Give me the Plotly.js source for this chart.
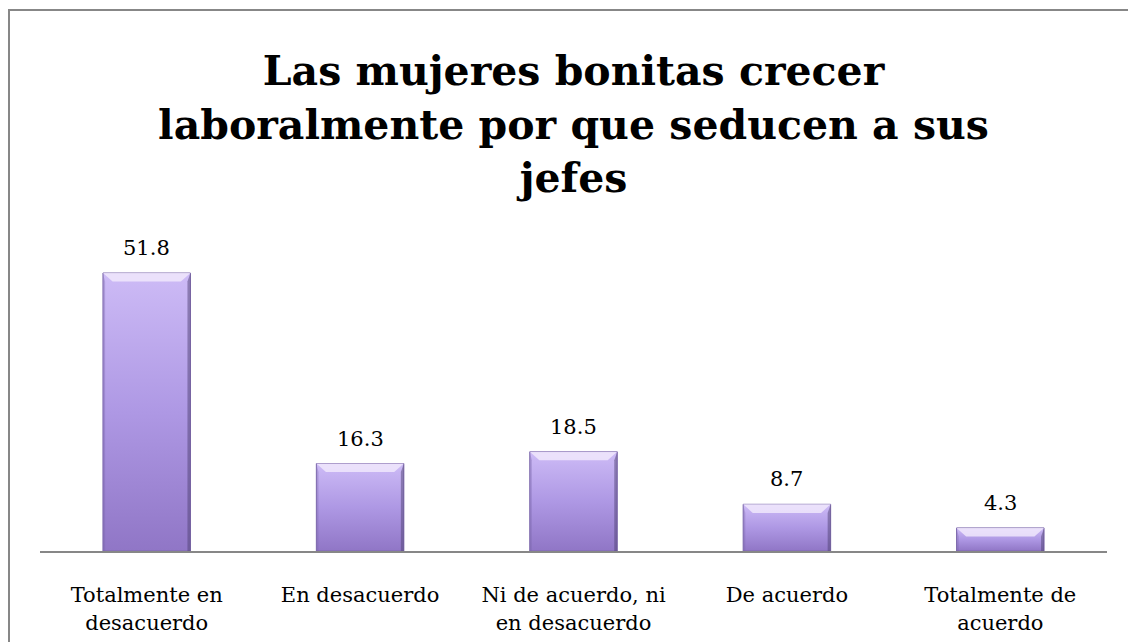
<!DOCTYPE html>
<html>
<head>
<meta charset="utf-8">
<script src="https://cdn.plot.ly/plotly-3.0.1.min.js"></script>
<style>
  html, body { margin:0; padding:0; background:#fff; overflow:hidden; }
  #wrap { position:relative; width:1128px; height:642px; }
  #chart { position:absolute; left:0; top:0; width:1128px; height:642px; }
  #frame { position:absolute; left:8px; top:9px; width:1300px; height:800px;
           border-left:2px solid #878787; border-top:2px solid #878787; pointer-events:none; }
</style>
</head>
<body>
<div id="wrap">
  <div id="chart"></div>
  <div id="frame"></div>
</div>
<script>
const categories = ["Totalmente en<br>desacuerdo", "En desacuerdo", "Ni de acuerdo, ni<br>en desacuerdo", "De acuerdo", "Totalmente de<br>acuerdo"];
const values = [51.8, 16.3, 18.5, 8.7, 4.3];
const titleText = "Las mujeres bonitas crecer<br>laboralmente por que seducen a sus<br>jefes";

const halfW = 0.205;
const serif = "'DejaVu Serif', serif";
const traces = [];

values.forEach((v, i) => {
  traces.push({
    type: 'scatter', mode: 'lines', hoverinfo: 'skip', showlegend: false,
    x: [i - halfW, i - halfW, i + halfW, i + halfW, i - halfW],
    y: [0, v, v, 0, 0],
    fill: 'toself',
    fillgradient: { type: 'vertical', colorscale: [[0, '#9076c6'], [0.5, '#ae98e4'], [1, '#cdbbf6']] },
    line: { color: '#7e6aad', width: 1 }
  });
  const bx = 0.045, by = 1.6;
  traces.push({
    type: 'scatter', mode: 'lines', hoverinfo: 'skip', showlegend: false,
    x: [i - halfW, i + halfW, i + halfW - bx, i - halfW + bx, i - halfW],
    y: [v, v, v - by, v - by, v],
    fill: 'toself', fillcolor: 'rgba(242,235,253,0.8)', line: { width: 0 }
  });
  traces.push({
    type: 'scatter', mode: 'lines', hoverinfo: 'skip', showlegend: false,
    x: [i + halfW, i + halfW, i + halfW - 0.014, i + halfW - 0.014, i + halfW],
    y: [0, v, v - by, 0, 0],
    fill: 'toself', fillcolor: 'rgba(80,65,115,0.5)', line: { width: 0 }
  });
  traces.push({
    type: 'scatter', mode: 'lines', hoverinfo: 'skip', showlegend: false,
    x: [i - halfW, i - halfW, i - halfW + 0.01, i - halfW + 0.01, i - halfW],
    y: [0, v, v - by, 0, 0],
    fill: 'toself', fillcolor: 'rgba(120,100,170,0.35)', line: { width: 0 }
  });
});

const annotations = values.map((v, i) => ({
  x: i, y: v, xref: 'x', yref: 'y', text: v.toFixed(1), showarrow: false,
  yanchor: 'middle', yshift: 25, font: { family: serif, size: 21, color: '#000' }
}));

const layout = {
  width: 1128, height: 642,
  margin: { l: 40, r: 21, t: 229, b: 91 },
  paper_bgcolor: '#fff', plot_bgcolor: '#fff',
  title: {
    text: titleText, x: 0.5, xref: 'paper', y: 0.867, yref: 'container', yanchor: 'middle',
    font: { family: serif, size: 41, color: '#000', weight: 'bold' }
  },
  xaxis: {
    range: [-0.5, 4.5], tickvals: [0, 1, 2, 3, 4], ticktext: categories,
    showline: true, linecolor: '#878787', linewidth: 2, showgrid: false, zeroline: false,
    ticks: '', ticklabelstandoff: 24, fixedrange: true,
    tickfont: { family: serif, size: 21, color: '#000' }
  },
  yaxis: { range: [0, 60], visible: false, showgrid: false, zeroline: false, fixedrange: true },
  annotations: annotations,
  showlegend: false
};

Plotly.newPlot('chart', traces, layout, { displayModeBar: false, staticPlot: true });
</script>
</body>
</html>
